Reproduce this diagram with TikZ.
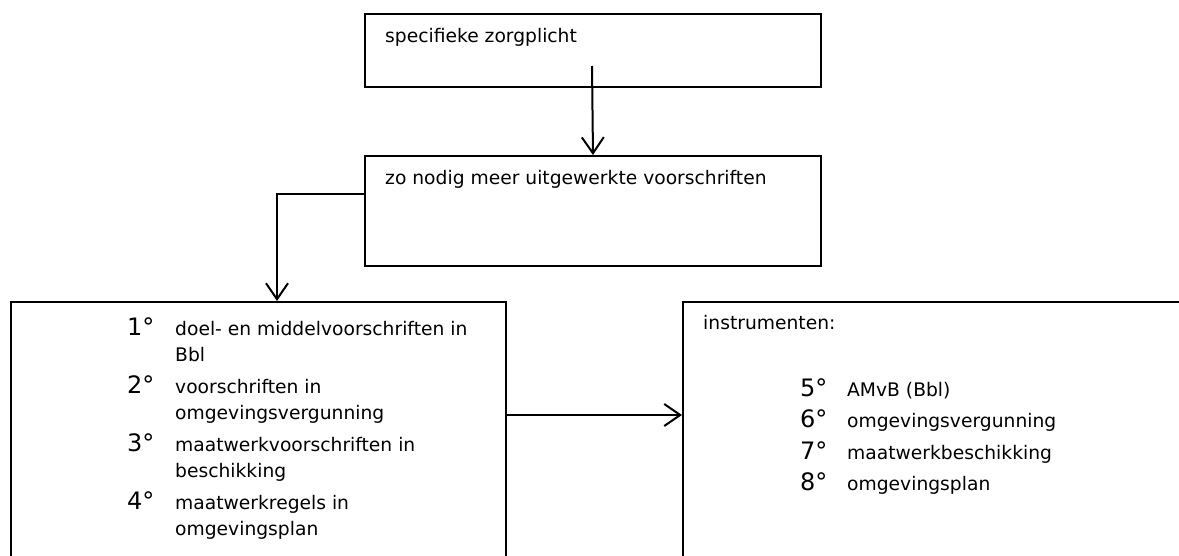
\documentclass[tikz,border=0pt]{standalone}
\usepackage{fontspec}
\setmainfont{DejaVu Sans}
\usetikzlibrary{arrows.meta,calc}
\begin{document}
\begin{tikzpicture}[x=1pt,y=-1pt,
  box/.style={draw, line width=2pt, rectangle, inner sep=0pt, anchor=north west},
  conn/.style={line width=2pt, -{Straight Barb[length=16pt,width=22pt,line width=2pt]}},
  txt/.style={anchor=base west, inner sep=0pt, font=\fontsize{18.7}{22}\selectfont},
  num/.style={anchor=base west, inner sep=0pt, font=\fontsize{24}{28}\selectfont}]
\useasboundingbox (0,0) rectangle (1179,556);
\begin{scope}
\clip (0,0) rectangle (1179,556);
\node[box, minimum width=456pt, minimum height=73pt] (top) at (364,13) {};
\node[box, minimum width=456pt, minimum height=110pt] (mid) at (364,155) {};
\node[box, minimum width=495pt, minimum height=300pt] (lft) at (10,301) {};
\node[box, minimum width=540pt, minimum height=300pt] (rgt) at (682,301) {};
\end{scope}
% texts
\node[txt] (ttop) at (385,43) {specifieke zorgplicht};
\node[txt] (tmid) at (385,185) {zo nodig meer uitgewerkte voorschriften};
\node[num] (n1) at (127,335) {1°};
\node[txt] (i1a) at (175,335) {doel- en middelvoorschriften in};
\node[txt] (i1b) at (175,361.5) {Bbl};
\node[num] (n2) at (127,393) {2°};
\node[txt] (i2a) at (175,393) {voorschriften in};
\node[txt] (i2b) at (175,419.5) {omgevingsvergunning};
\node[num] (n3) at (127,451) {3°};
\node[txt] (i3a) at (175,451) {maatwerkvoorschriften in};
\node[txt] (i3b) at (175,477.5) {beschikking};
\node[num] (n4) at (127,509) {4°};
\node[txt] (i4a) at (175,509) {maatwerkregels in};
\node[txt] (i4b) at (175,535.5) {omgevingsplan};
\node[txt] (tins) at (703,330) {instrumenten:};
\node[num] (n5) at (800,396.5) {5°};
\node[txt] (i5) at (847,396.5) {AMvB (Bbl)};
\node[num] (n6) at (800,427) {6°};
\node[txt] (i6) at (847,427) {omgevingsvergunning};
\node[num] (n7) at (800,459) {7°};
\node[txt] (i7) at (847,459) {maatwerkbeschikking};
\node[num] (n8) at (800,490.5) {8°};
\node[txt] (i8) at (847,490.5) {omgevingsplan};
% connectors
\coordinate (t1) at (592,66);
\draw[conn] (t1) -- (mid.north);
\coordinate (m1) at ($(mid.north west)+(0,39)$);
\coordinate (l1) at ($(lft.north west)+(267,0)$);
\draw[conn] (m1) -| (l1);
\draw[conn] ($(lft.north east)+(0,114)$) -- ($(rgt.north west)+(0,114)$);
\end{tikzpicture}
\end{document}
